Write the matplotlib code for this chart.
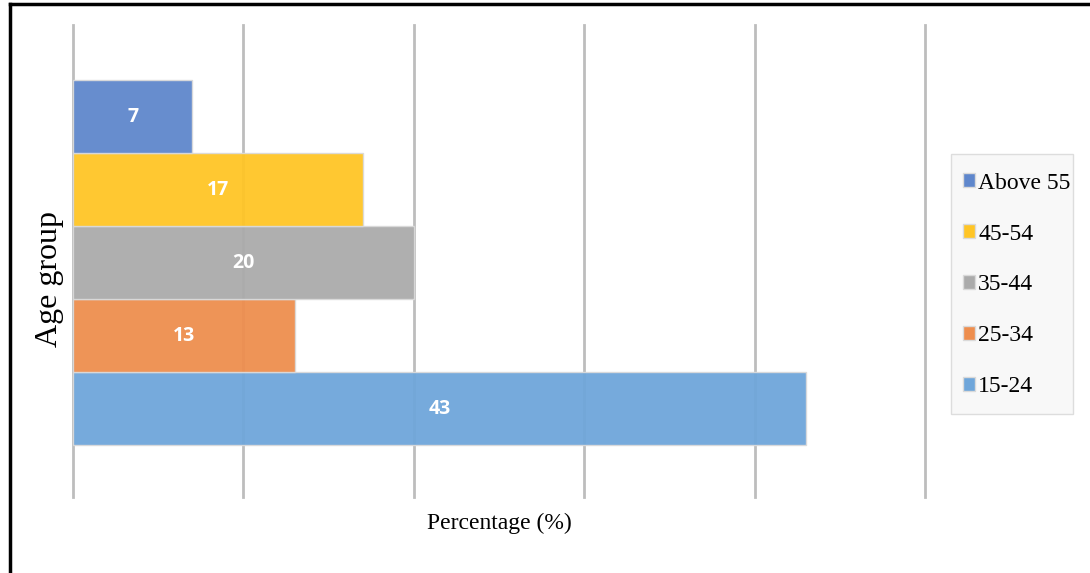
import matplotlib
matplotlib.use("Agg")
import matplotlib.pyplot as plt
from matplotlib.lines import Line2D
from matplotlib.patches import Patch, Rectangle

categories = ["15-24", "25-34", "35-44", "45-54", "Above 55"]
values = [43, 13, 20, 17, 7]
colors = ["#6FA6DA", "#EE8E4E", "#ABABAB", "#FFC526", "#5F87CC"]
x_ticks = [0, 10, 20, 30, 40, 50]

fig = plt.figure(figsize=(10.9, 5.73), dpi=100)
ax = fig.add_axes([73/1090, 1-497/573, 852/1090, 472/573])

for i, (cat, v, c) in enumerate(zip(categories, values, colors)):
    ax.barh(i, v, height=1.0, color=c, edgecolor="#DADADA", linewidth=1.0,
            label=cat, zorder=2, alpha=0.95)
    ax.text(v/2, i, str(v), ha="center", va="center", color="white",
            fontsize=14, fontweight="bold",
            family=["Open Sans", "DejaVu Sans"], zorder=4)

ax.set_xlim(0, 50)
ax.set_ylim(-1.21, 5.26)
ax.set_xticks(x_ticks)
ax.set_xticklabels([])
ax.set_yticks([])
ax.tick_params(length=0)
ax.grid(axis="x", color="#BDBDBD", linewidth=2.0, zorder=1)
for gl in ax.get_xgridlines():
    gl.set_clip_on(False)
ax.set_axisbelow(True)
for s in ax.spines.values():
    s.set_visible(False)

ax.set_xlabel("Percentage (%)", family="Liberation Serif", fontsize=17, labelpad=8)
ax.set_ylabel("Age group", family="Liberation Serif", fontsize=23)
ax.yaxis.set_label_coords(-0.011, 0.462)

# legend box
fig.add_artist(Rectangle((951/1090, 1-414/573), 122/1090, 260/573,
                         transform=fig.transFigure, facecolor="#F8F8F8",
                         edgecolor="#DDDDDD", linewidth=1.0, zorder=0))
handles = [Patch(facecolor=c, edgecolor="#DADADA") for c in colors][::-1]
labels = categories[::-1]
leg = fig.legend(handles, labels, loc="center left",
                 bbox_to_anchor=(963/1090, 1-285/573),
                 prop={"family": "Liberation Serif", "size": 17},
                 frameon=False,
                 handlelength=0.5, handleheight=0.5, handletextpad=0.15,
                 labelspacing=1.27, borderpad=0, borderaxespad=0)
leg.set_zorder(5)

fig.add_artist(Line2D([10/1090, 1], [1-4/573, 1-4/573], color="black", linewidth=2.5,
                      transform=fig.transFigure))
fig.add_artist(Line2D([10/1090, 10/1090], [0, 1-4/573], color="black", linewidth=2.5,
                      transform=fig.transFigure))

fig.savefig("out.png", dpi=100)
